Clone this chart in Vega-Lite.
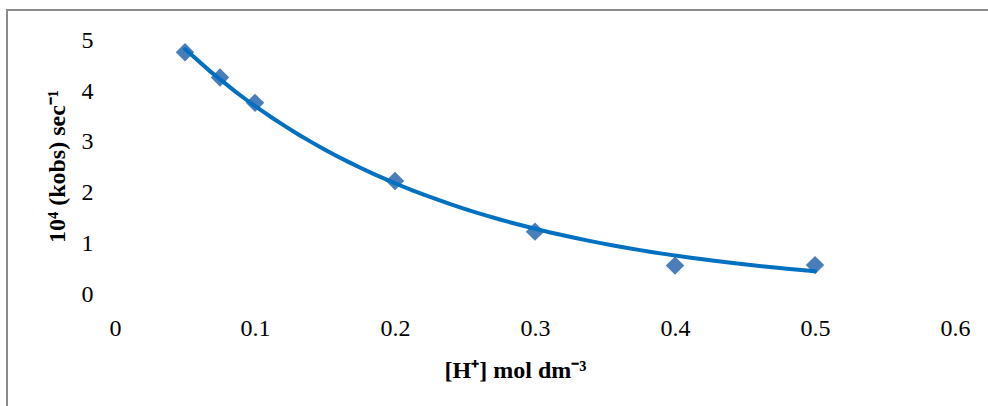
{
  "$schema": "https://vega.github.io/schema/vega-lite/v6.json",
  "autosize": {"type": "none"},
  "padding": {"left": 7, "top": 10, "right": 0, "bottom": 0},
  "width": 988,
  "height": 410,
  "background": "white",
  "config": {
    "view": {"stroke": "#8c8c8c", "strokeWidth": 2},
    "font": "Liberation Serif"
  },
  "data": {
    "values": [
      {"h": 0.05, "k": 4.77},
      {"h": 0.075, "k": 4.27},
      {"h": 0.1, "k": 3.77},
      {"h": 0.2, "k": 2.23},
      {"h": 0.3, "k": 1.23},
      {"h": 0.4, "k": 0.56},
      {"h": 0.5, "k": 0.57}
    ]
  },
  "encoding": {
    "x": {
      "field": "h",
      "type": "quantitative",
      "scale": {"domain": [-0.07714, 0.62857], "nice": false, "zero": false},
      "axis": {
        "orient": "bottom",
        "values": [0, 0.1, 0.2, 0.3, 0.4, 0.5, 0.6],
        "format": "~g",
        "domain": false,
        "ticks": false,
        "grid": false,
        "offset": -104,
        "labelPadding": 0,
        "labelFont": "Liberation Serif",
        "labelFontSize": 24,
        "labelColor": "#000000",
        "labelFlush": false,
        "title": "[H⁺] mol dm⁻³",
        "titleFont": "Liberation Serif",
        "titleFontSize": 24,
        "titleFontWeight": "bold",
        "titleColor": "#000000",
        "titleX": 508,
        "titleY": 61,
        "titleBaseline": "alphabetic",
        "titleAlign": "center"
      }
    },
    "y": {
      "field": "k",
      "type": "quantitative",
      "scale": {"domain": [-2.4852, 5.6016], "nice": false, "zero": false},
      "axis": {
        "orient": "left",
        "values": [0, 1, 2, 3, 4, 5],
        "format": "~g",
        "domain": false,
        "ticks": false,
        "grid": false,
        "offset": -86,
        "labelPadding": 0,
        "labelFont": "Liberation Serif",
        "labelFontSize": 24,
        "labelColor": "#000000",
        "labelFlush": false,
        "title": "10⁴ (kobs) sec⁻¹",
        "titleFont": "Liberation Serif",
        "titleFontSize": 24,
        "titleFontWeight": "bold",
        "titleColor": "#000000",
        "titleAngle": -90,
        "titleX": -29,
        "titleY": 156,
        "titleBaseline": "alphabetic",
        "titleAlign": "center"
      }
    }
  },
  "layer": [
    {
      "data": {"values": [{}]},
      "mark": {"type": "rule", "color": "#868686", "strokeWidth": 2},
      "encoding": {
        "x": {"datum": 0, "type": "quantitative"},
        "y": {"datum": 0, "type": "quantitative"},
        "y2": {"datum": 5}
      }
    },
    {
      "data": {"values": [{}]},
      "mark": {"type": "rule", "color": "#868686", "strokeWidth": 2},
      "encoding": {
        "x": {"datum": 0, "type": "quantitative"},
        "x2": {"datum": 0.6},
        "y": {"datum": 0, "type": "quantitative"}
      }
    },
    {
      "mark": {"type": "point", "shape": "diamond", "filled": true, "size": 340, "color": "#4a7ebb", "opacity": 1},
      "encoding": {}
    },
    {
      "transform": [
        {"regression": "k", "on": "h", "method": "exp", "extent": [0.05, 0.5]}
      ],
      "mark": {"type": "line", "color": "#0070c0", "strokeWidth": 4, "strokeCap": "round"},
      "encoding": {}
    }
  ]
}
